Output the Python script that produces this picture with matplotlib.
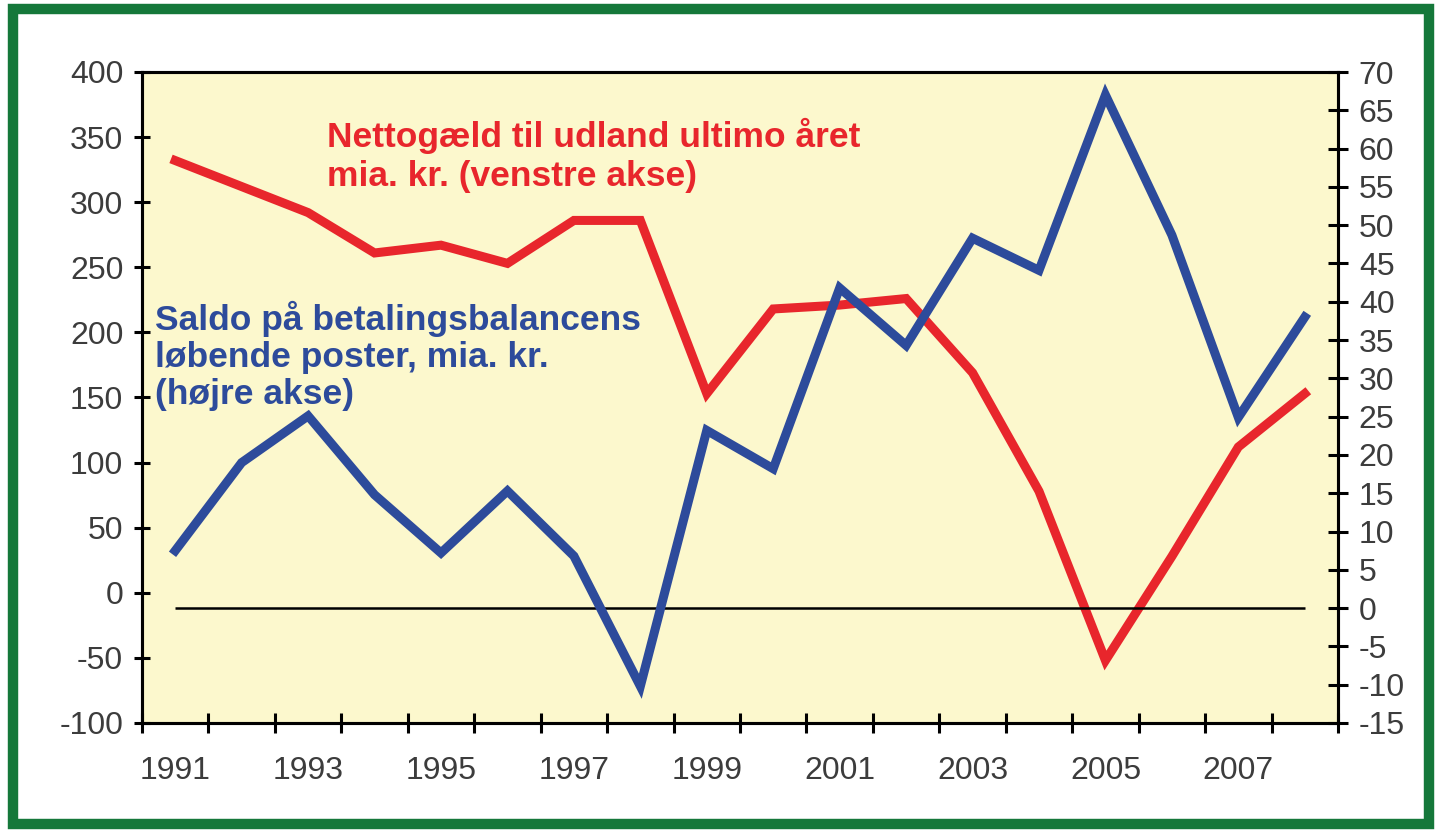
import matplotlib.pyplot as plt
from matplotlib.patches import Rectangle
import numpy as np

plt.rcParams['font.family'] = ['Liberation Sans', 'DejaVu Sans']
plt.rcParams['axes.unicode_minus'] = False

# Data
years = list(range(1991, 2009))
nettogaeld = [332, 312, 292, 261, 267, 253, 286, 286, 153, 218,
              221, 226, 169, 78, -52, 28, 112, 153]          # venstre akse
saldo = [7.5, 19.0, 25.1, 14.8, 7.2, 15.3, 6.8, -10.2, 23.2, 18.2,
         41.8, 34.3, 48.3, 44.1, 67.0, 48.7, 24.9, 38.0]     # højre akse
year_labels = [str(y) if y % 2 == 1 else '' for y in years]

red = '#E8262C'
blue = '#2D4B9B'
grey = '#3C3C3C'

fig = plt.figure(figsize=(14.35, 8.33), dpi=100)
fig.patch.set_facecolor('white')

# green frame around the whole figure
fig.patches.append(Rectangle((13 / 1435, 9 / 833), 1416 / 1435, 815 / 833,
                             transform=fig.transFigure, fill=False,
                             edgecolor='#15783A', linewidth=7.5))

ax = fig.add_axes([142 / 1435, 1 - 723 / 833, 1196 / 1435, 651 / 833])
ax.set_facecolor('#FCF8CD')
ax2 = ax.twinx()

x = np.arange(len(years))
ax.plot(x, nettogaeld, color=red, linewidth=6.5, solid_joinstyle='miter', zorder=3)
ax2.plot(x, saldo, color=blue, linewidth=6.5, solid_joinstyle='miter', zorder=3)
ax2.hlines(0, x[0], x[-1], color='black', linewidth=1.8, zorder=2)

ax.set_xlim(-0.5, len(years) - 0.5)
ax.set_ylim(-100, 400)
ax2.set_ylim(-15, 70)
ax.set_yticks(range(-100, 401, 50))
ax2.set_yticks(range(-15, 71, 5))

# category axis: ticks between years, labels at year centres
ax.set_xticks(np.arange(-0.5, len(years), 1.0))
ax.set_xticklabels([])
ax.set_xticks(x, minor=True)
ax.set_xticklabels(year_labels, minor=True)

ax.tick_params(axis='x', which='major', direction='inout', length=14, width=2.2)
ax.tick_params(axis='x', which='minor', length=0, pad=24, labelsize=23, labelcolor=grey)
ax.tick_params(axis='y', direction='inout', length=11, width=2.2, pad=8,
               labelsize=23, labelcolor=grey)
ax2.tick_params(axis='y', direction='inout', length=14, width=2.2, pad=8,
                labelsize=23, labelcolor=grey)

for a in (ax, ax2):
    for s in a.spines.values():
        s.set_linewidth(2.2)
        s.set_color('black')

ax.text(327 / 1435, 1 - 186 / 833,
        'Nettogæld til udland ultimo året\nmia. kr. (venstre akse)',
        transform=fig.transFigure, color=red, fontsize=25.5, fontweight='bold',
        ha='left', va='baseline', linespacing=1.22)
ax.text(155 / 1435, 1 - 404 / 833,
        'Saldo på betalingsbalancens\nløbende poster, mia. kr.\n(højre akse)',
        transform=fig.transFigure, color=blue, fontsize=25.5, fontweight='bold',
        ha='left', va='baseline', linespacing=1.15)

fig.savefig('out.png', dpi=100)
